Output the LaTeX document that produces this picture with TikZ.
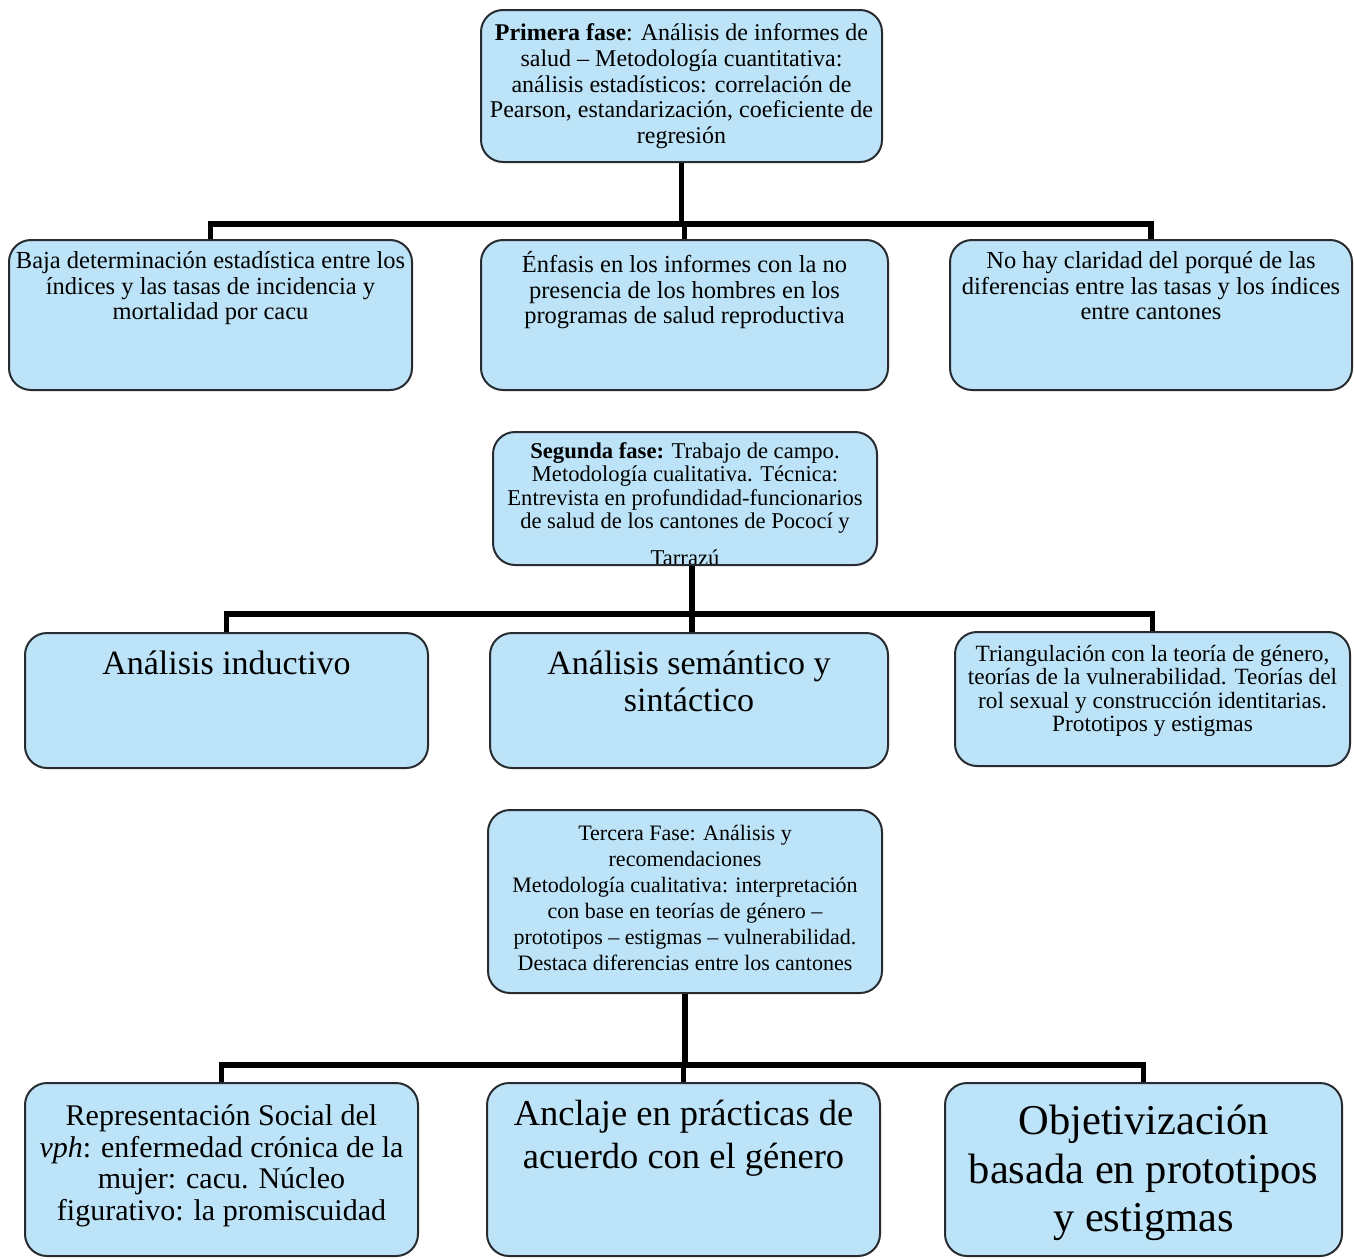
\documentclass[tikz,border=0pt]{standalone}
\usepackage{fontspec}
\setmainfont{Liberation Serif}
\definecolor{boxfill}{RGB}{188,227,247}
\definecolor{boxline}{RGB}{40,44,48}
\begin{document}
\begin{tikzpicture}[x=1pt,y=-1pt,
  box/.style={draw=boxline, line width=2pt, fill=boxfill, rounded corners=22pt, inner sep=0pt},
  txt/.style={align=center, inner sep=0pt, anchor=north, text=black},
  conn/.style={line width=5.5pt, draw=black, line join=miter}]
\useasboundingbox (0,0) rectangle (1354,1258);
\fill[white] (0,0) rectangle (1354,1258);

% ---------- boxes ----------
\node[box, minimum width=401pt, minimum height=152pt] (P1) at (681.5,86) {};
\node[box, minimum width=403pt, minimum height=150pt] (A1) at (210.5,315) {};
\node[box, minimum width=407pt, minimum height=150pt] (A2) at (684.5,315) {};
\node[box, minimum width=402pt, minimum height=150pt] (A3) at (1151,315) {};

\node[box, minimum width=384pt, minimum height=133pt] (P2) at (685,498.5) {};
\node[box, minimum width=403pt, minimum height=135pt] (B1) at (226.5,700.5) {};
\node[box, minimum width=398pt, minimum height=135pt] (B2) at (689,700.5) {};
\node[box, minimum width=395pt, minimum height=134pt] (B3) at (1152.5,699) {};

\node[box, minimum width=394pt, minimum height=183pt] (P3) at (685,901.5) {};
\node[box, minimum width=393pt, minimum height=173pt] (C1) at (221.5,1169.5) {};
\node[box, minimum width=393pt, minimum height=173pt] (C2) at (683.5,1169.5) {};
\node[box, minimum width=397pt, minimum height=173pt] (C3) at (1143.5,1169.5) {};

% ---------- texts ----------
\node[txt, font=\fontsize{24}{25.8}\selectfont] (tP1) at (681.5,23.5)
  {\textbf{Primera fase}: Análisis de informes de\\ salud – Metodología cuantitativa:\\ análisis estadísticos: correlación de\\ Pearson, estandarización, coeficiente de\\ regresión};
\node[txt, font=\fontsize{24.5}{25.5}\selectfont] (tA1) at (210.5,251.5)
  {Baja determinación estadística entre los\\ índices y las tasas de incidencia y\\ mortalidad por cacu};
\node[txt, font=\fontsize{24.5}{25.5}\selectfont] (tA2) at (684.5,251.5)
  {Énfasis en los informes con la no\\ presencia de los hombres en los\\ programas de salud reproductiva};
\node[txt, font=\fontsize{24.5}{25.5}\selectfont] (tA3) at (1151,251.5)
  {No hay claridad del porqué de las\\ diferencias entre las tasas y los índices\\ entre cantones};

\begin{scope}
\clip[rounded corners=21pt] (494,433) rectangle (876,563);
\node[txt, font=\fontsize{22.6}{23.5}\selectfont] (tP2) at (685,442)
  {\textbf{Segunda fase:} Trabajo de campo.\\ Metodología cualitativa. Técnica:\\ Entrevista en profundidad-funcionarios\\ de salud de los cantones de Pococí y\\[13.5pt] Tarrazú};
\end{scope}
\node[txt, font=\fontsize{34}{37}\selectfont] (tB1) at (226.5,651) {Análisis inductivo};
\node[txt, font=\fontsize{34}{37}\selectfont] (tB2) at (689,651) {Análisis semántico y\\ sintáctico};
\node[txt, font=\fontsize{23.3}{23.5}\selectfont] (tB3) at (1152.5,645)
  {Triangulación con la teoría de género,\\ teorías de la vulnerabilidad. Teorías del\\ rol sexual y construcción identitarias.\\ Prototipos y estigmas};

\node[txt, font=\fontsize{22}{26}\selectfont] (tP3) at (685,825.3)
  {Tercera Fase: Análisis y\\ recomendaciones\\ Metodología cualitativa: interpretación\\ con base en teorías de género –\\ prototipos – estigmas – vulnerabilidad.\\ Destaca diferencias entre los cantones};
\node[txt, font=\fontsize{30}{31.5}\selectfont] (tC1) at (221.5,1104.5)
  {Representación Social del\\ \textit{vph}: enfermedad crónica de la\\ mujer: cacu. Núcleo\\ figurativo: la promiscuidad};
\node[txt, font=\fontsize{36.5}{42.5}\selectfont] (tC2) at (683.5,1100)
  {Anclaje en prácticas de\\ acuerdo con el género};
\node[txt, font=\fontsize{42.5}{48.5}\selectfont] (tC3) at (1143.5,1105)
  {Objetivización\\ basada en prototipos\\ y estigmas};

% ---------- connectors ----------
\coordinate (h1) at (683,224);
\coordinate (h2) at (692,614);
\coordinate (h3) at (685,1065);

\draw[conn] (P1.south) -- (P1.south |- h1);
\draw[conn] (A1.north) |- (h1) -| (A3.north);
\draw[conn] (A2.north |- h1) -- (A2.north);

\draw[conn] (P2.south -| h2) -- (h2);
\draw[conn] (B1.north) |- (h2) -| (B3.north);
\draw[conn] (h2) -- (B2.north -| h2);

\draw[conn] (P3.south) -- (P3.south |- h3);
\draw[conn] (C1.north) |- (h3) -| (C3.north);
\draw[conn] (C2.north |- h3) -- (C2.north);
\end{tikzpicture}
\end{document}
